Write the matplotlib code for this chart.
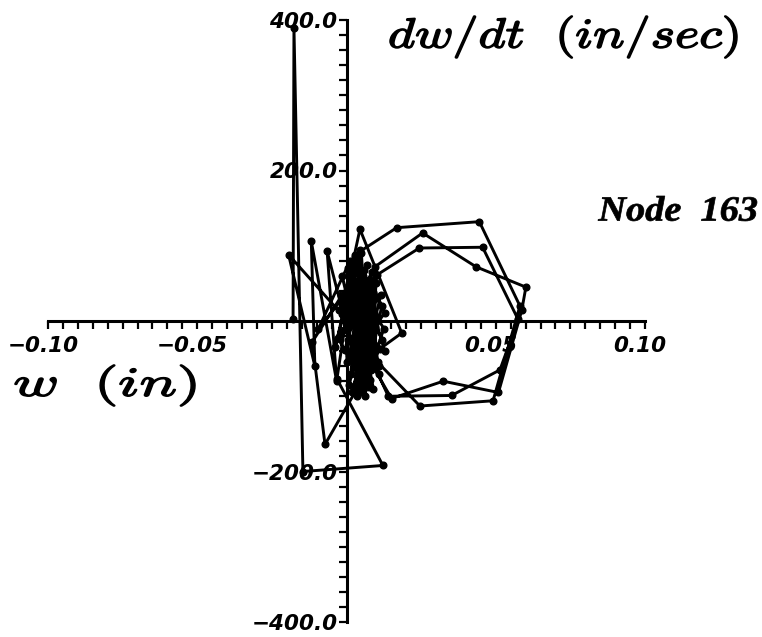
import numpy as np
import matplotlib
matplotlib.use("Agg")
import matplotlib.pyplot as plt
from matplotlib.ticker import MultipleLocator
from matplotlib.textpath import TextPath
from matplotlib.patches import PathPatch
from matplotlib.font_manager import FontProperties
from matplotlib.transforms import Affine2D, IdentityTransform, ScaledTranslation

plt.rcParams["mathtext.fontset"] = "cm"

# Phase-plane trajectory of node 163: displacement w (in) vs velocity dw/dt (in/sec)
w = [-0.0179, -0.0176, -0.0146, 0.0122, -0.0032, 0.0018, -0.0115, -0.0072,
     0.0112, 0.0185, 0.0045, -0.0016, -0.0194, -0.0106, -0.0118, -0.0033,
     -0.0065, 0.0039, 0.0012, -0.0095, 0.0050, 0.0010, 0.0070, -0.0020,
     0.0055, 0.0080, 0.0000, 0.0030, 0.0085, -0.0010, 0.0062, 0.0098,
     0.0022, -0.0030, 0.0042, 0.0075, 0.0008, 0.0055, 0.0095, 0.0028,
     0.0168, 0.0445, 0.0581, 0.0491, 0.0246, 0.0105, 0.0035, 0.0078,
     -0.0005, 0.0060, 0.0090, 0.0015, 0.0048, 0.0088, 0.0095,
     0.0255, 0.0434, 0.0601, 0.0587, 0.0509, 0.0324, 0.0151, 0.0070,
     0.0020, 0.0082, 0.0040, -0.0008, 0.0072, 0.0030, 0.0092, 0.0101,
     0.0244, 0.0456, 0.0575, 0.0514, 0.0352, 0.0140, 0.0065, 0.0025,
     0.0068, 0.0045, 0.0010, 0.0058, 0.0035, 0.0050,
     0.0110, 0.0005, 0.0065, 0.0020, 0.0100, -0.0025, 0.0075, 0.0050,
     -0.0040, 0.0085, 0.0015, 0.0120, 0.0030, 0.0060, -0.0015, 0.0090,
     0.0040, 0.0070, 0.0005, 0.0105, 0.0025, 0.0045, 0.0080, -0.0005,
     0.0060, 0.0035, 0.0115, 0.0010,
     0.0128, 0.0055, 0.0118, 0.0068, 0.0125, 0.0040, 0.0108, 0.0078,
     0.0130, 0.0052]
dwdt = [3, 389, -200, -192, -77, 55, -28, -164,
        -37, -16, 122, 9, 88, -60, 106, -80,
        93, -68, 80, -11, 62, -85, 48, 35,
        -92, 18, -55, 85, -42, 10, -100, 30,
        72, -22, -72, 55, 48, -84, -8, 88,
        124, 132, 20, -106, -113, -55, 40, -78,
        -38, 68, -30, 25, -95, 38, 72,
        117, 72, 45, 14, -95, -80, -103, -48,
        58, -65, 78, -12, 40, -88, 10, 61,
        97, 98, 2, -65, -99, -100, -35, 52,
        -72, 30, -45, 20, -30, 5,
        -60, 70, -20, -95, 50, 15, -88, 90,
        -35, 65, -70, -25, 45, -65, 60, -90,
        15, 75, -25, 5, -60, 95, -55, 30,
        40, -100, 35, 0,
        -40, 60, 20, -80, -10, 45, -70, 55,
        10, -20]

xticks = [-0.10, -0.05, 0.05, 0.10]
xticklabels = ["\u22120.10", "\u22120.05", "0.05", "0.10"]
yticks = [-400, -200, 200, 400]
yticklabels = ["\u2212400.0", "\u2212200.0", "200.0", "400.0"]

W_PX, H_PX = 762, 637
fig = plt.figure(figsize=(W_PX / 100, H_PX / 100), dpi=100)
ax = fig.add_axes([48 / W_PX, 1 - 622 / H_PX, 597 / W_PX, 602 / H_PX])
ax.set_xlim(-0.10, 0.10)
ax.set_ylim(-400, 400)

ax.plot(w, dwdt, color="black", lw=2.1, marker="o", ms=4.8,
        solid_joinstyle="round", clip_on=False, zorder=3)

# axes crossing at the origin
for side in ("top", "right"):
    ax.spines[side].set_visible(False)
ax.spines["left"].set_position(("data", 0))
ax.spines["bottom"].set_position(("data", 0))
for side in ("left", "bottom"):
    ax.spines[side].set_linewidth(2.2)

tick_font = dict(family="DejaVu Sans", weight="bold", style="oblique", size=15.5)
ax.set_xticks(xticks)
ax.set_xticklabels(xticklabels, fontdict=tick_font)
ax.set_yticks(yticks)
ax.set_yticklabels(yticklabels, fontdict=tick_font)
ax.xaxis.set_minor_locator(MultipleLocator(0.005))
ax.yaxis.set_minor_locator(MultipleLocator(20))
ax.tick_params(which="both", direction="out", length=5.5, width=1.6)
ax.tick_params(axis="x", which="major", pad=5)
ax.tick_params(axis="y", which="major", pad=1)
shift = ScaledTranslation(-5 / 100, 0, fig.dpi_scale_trans)
for lab in ax.get_xticklabels():
    lab.set_transform(lab.get_transform() + shift)


def boxed_text(s, x0, y0, x1, y1, prop=None, lw=1.1):
    """Draw text as a path stretched into the pixel box (x0, y0)-(x1, y1), y from top."""
    tp = TextPath((0, 0), s, size=40, prop=prop)
    ext = tp.get_extents()
    tr = (Affine2D().translate(-ext.x0, -ext.y0)
          .scale((x1 - x0) / ext.width, (y1 - y0) / ext.height)
          .translate(x0, H_PX - y1))
    fig.add_artist(PathPatch(tr.transform_path(tp), facecolor="black",
                             edgecolor="black", lw=lw,
                             transform=IdentityTransform()))


boxed_text(r"$dw/dt\ \ (in/sec)$", 390, 16, 737, 58)
boxed_text(r"$w\ \ (in)$", 15, 365, 195, 406)
boxed_text("Node  163", 598, 196, 757, 221, lw=0.5,
           prop=FontProperties(family="Liberation Serif", weight="bold", style="italic"))

fig.savefig("out.png", dpi=100)
